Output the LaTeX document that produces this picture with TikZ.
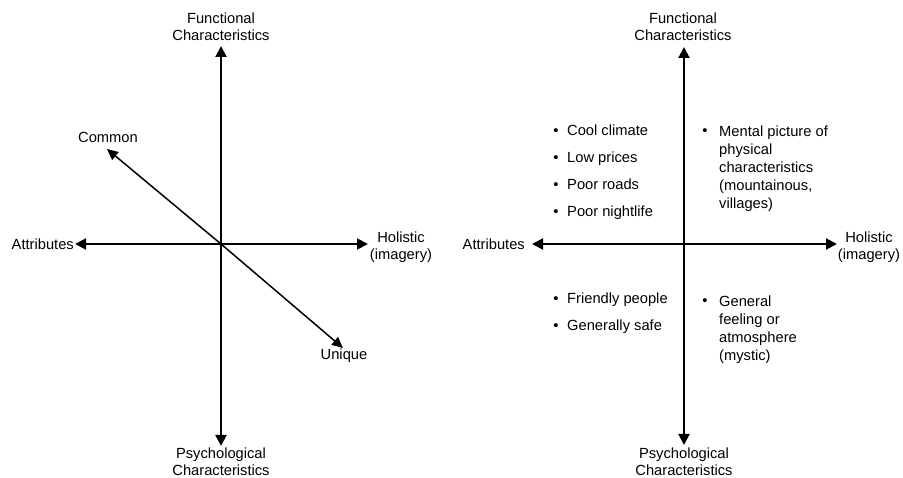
\documentclass[tikz,border=0pt]{standalone}
\usepackage{fontspec}
\setmainfont{Liberation Sans}
\usetikzlibrary{arrows.meta}
\begin{document}
\begin{tikzpicture}[x=1pt,y=-1pt,
  lbl/.style={inner sep=0pt,font=\fontsize{14.7}{17}\selectfont,align=center},
  itemtext/.style={inner sep=0pt,font=\fontsize{14.7}{18}\selectfont,align=left},
  dot/.style={inner sep=0pt,font=\fontsize{14.7}{17}\selectfont},
  axis/.style={line width=2pt,-{Triangle[length=11pt,width=11pt]}},
  diag/.style={line width=1.5pt,-{Triangle[length=11pt,width=10pt]}}]
\useasboundingbox (0,0) rectangle (903,478);

% ---------- left chart: attribute/holistic axes with common-unique diagonal
\coordinate (c1) at (221,244);
\coordinate (t1) at (221,46);
\coordinate (b1) at (221,446);
\coordinate (l1) at (75,244);
\coordinate (r1) at (368,244);
\coordinate (cm) at (107,149);
\coordinate (uq) at (343,348);

\node[lbl] (fun1) at (221,26.5) {Functional\\Characteristics};
\node[lbl] (psy1) at (221,461.5) {Psychological\\Characteristics};
\node[lbl,anchor=east] (att1) at (74,244) {Attributes};
\node[lbl] (hol1) at (401,247.5) {Holistic\\(imagery)};
\node[lbl] (com) at (108,137) {Common};
\node[lbl] (uni) at (344,356) {Unique};

\draw[axis] (c1) -- (t1);
\draw[axis] (c1) -- (b1);
\draw[axis] (c1) -- (l1);
\draw[axis] (c1) -- (r1);
\draw[diag] (c1) -- (cm);
\draw[diag] (c1) -- (uq);

% ---------- right chart: the four quadrants with examples
\coordinate (c2) at (684,244);
\coordinate (t2) at (684,47);
\coordinate (b2) at (684,445);
\coordinate (l2) at (532,244);
\coordinate (r2) at (837,244);

\node[lbl] (fun2) at (683,26.5) {Functional\\Characteristics};
\node[lbl] (psy2) at (684,461.5) {Psychological\\Characteristics};
\node[lbl,anchor=east] (att2) at (525,244) {Attributes};
\node[lbl] (hol2) at (869,247.5) {Holistic\\(imagery)};

\draw[axis] (c2) -- (t2);
\draw[axis] (c2) -- (b2);
\draw[axis] (c2) -- (l2);
\draw[axis] (c2) -- (r2);

% functional attributes
\node[dot,anchor=base] (d1) at (556,136) {•};
\node[itemtext,anchor=base west] (i1) at (567,136) {Cool climate};
\node[dot,anchor=base] (d2) at (556,163) {•};
\node[itemtext,anchor=base west] (i2) at (567,163) {Low prices};
\node[dot,anchor=base] (d3) at (556,190) {•};
\node[itemtext,anchor=base west] (i3) at (567,190) {Poor roads};
\node[dot,anchor=base] (d4) at (556,217) {•};
\node[itemtext,anchor=base west] (i4) at (567,217) {Poor nightlife};

% functional holistic
\node[dot,anchor=base] (d5) at (705,136) {•};
\node[itemtext,anchor=north west] (i5) at (719,125.5)
  {Mental picture of\\physical\\characteristics\\(mountainous,\\villages)};

% psychological attributes
\node[dot,anchor=base] (d6) at (556,304) {•};
\node[itemtext,anchor=base west] (i6) at (567,304) {Friendly people};
\node[dot,anchor=base] (d7) at (556,331) {•};
\node[itemtext,anchor=base west] (i7) at (567,331) {Generally safe};

% psychological holistic
\node[dot,anchor=base] (d8) at (705,306) {•};
\node[itemtext,anchor=north west] (i8) at (719,295.5)
  {General\\feeling or\\atmosphere\\(mystic)};
\end{tikzpicture}
\end{document}
